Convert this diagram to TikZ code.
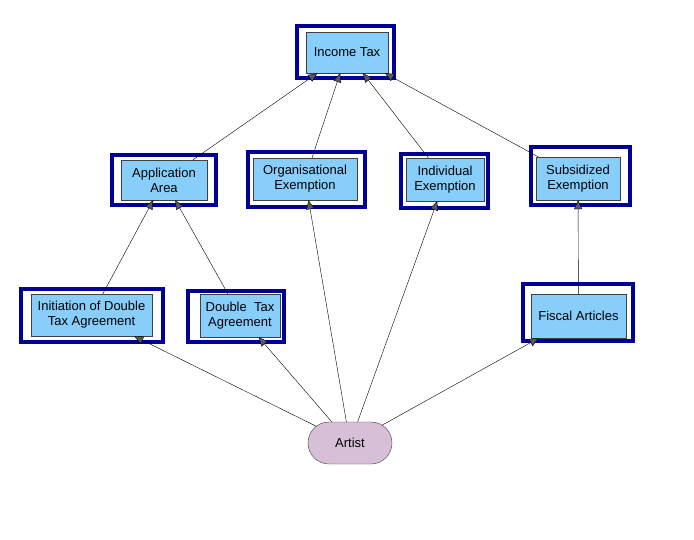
\documentclass[tikz,border=0pt]{standalone}
\usepackage{fontspec}
\setmainfont{Liberation Sans}
\usepackage{tikz}
\usepackage{xcolor}
\usetikzlibrary{arrows.meta, shapes.misc}
\definecolor{frameblue}{RGB}{0,0,150}
\definecolor{boxblue}{RGB}{135,206,250}
\definecolor{artistpink}{RGB}{216,191,216}
\tikzset{
    tax-frame/.style = {draw=frameblue, fill=white, line width=4.3pt, rectangle, inner sep=0pt},
    tax-box/.style = {draw=black!75, fill=boxblue, thin, rectangle, inner sep=0pt, align=center, font=\fontsize{13}{15}\selectfont},
    artist-box/.style = {draw=black!75, fill=artistpink, thin, rounded rectangle, inner sep=0pt, minimum width=84pt, minimum height=42pt, font=\fontsize{13}{15}\selectfont},
    tax-edge/.style = {draw=black, thin, -{Triangle[length=9pt, width=8pt, fill=gray!70!black]}},
}

\begin{document}
\begin{tikzpicture}[x=1pt, y=-1pt]
\useasboundingbox (0,0) rectangle (694,539);
\node [tax-frame, minimum width=97pt, minimum height=52pt] (income-frame) at (345.5,52) {};
\node [tax-frame, minimum width=104pt, minimum height=50pt] (area-frame) at (164,180) {};
\node [tax-frame, minimum width=117pt, minimum height=55pt] (org-frame) at (306.5,179.5) {};
\node [tax-frame, minimum width=87pt, minimum height=54pt] (indiv-frame) at (444.5,181) {};
\node [tax-frame, minimum width=99pt, minimum height=58pt] (subs-frame) at (580.5,176) {};
\node [tax-frame, minimum width=142pt, minimum height=53pt] (init-frame) at (92,315.5) {};
\node [tax-frame, minimum width=96pt, minimum height=51pt] (dta-frame) at (236,316.5) {};
\node [tax-frame, minimum width=110pt, minimum height=57pt] (fiscal-frame) at (578,312.5) {};

\node [tax-box, minimum width=82pt, minimum height=41pt] (income) at (347,52.5) {Income Tax};
\node [tax-box, minimum width=86pt, minimum height=40pt] (area) at (164,180) {Application\\Area};
\node [tax-box, minimum width=104pt, minimum height=42pt] (org) at (305,179) {Organisational\\Exemption};
\node [tax-box, minimum width=78pt, minimum height=43pt] (indiv) at (445,179.5) {Individual\\Exemption};
\node [tax-box, minimum width=84pt, minimum height=43pt] (subs) at (578,178.5) {Subsidized\\Exemption};
\node [tax-box, minimum width=121pt, minimum height=42pt] (init) at (91.5,315) {Initiation of Double\\Tax Agreement};
\node [tax-box, minimum width=80pt, minimum height=43pt] (dta) at (240,315.5) {Double\ \ Tax\\Agreement};
\node [tax-box, minimum width=95pt, minimum height=44pt] (fiscal) at (578.5,316) {Fiscal Articles};
\node [artist-box] (artist) at (350,443) {Artist};

\draw [tax-edge] (area) -- (income);
\draw [tax-edge] (org) -- (income);
\draw [tax-edge] (indiv) -- (income);
\draw [tax-edge] (subs) -- (income);
\draw [tax-edge] (init) -- (area);
\draw [tax-edge] (dta) -- (area);
\draw [tax-edge] (fiscal) -- (subs);
\draw [tax-edge] (artist) -- (init);
\draw [tax-edge] (artist) -- (dta);
\draw [tax-edge] (artist) -- (org);
\draw [tax-edge] (artist) -- (indiv);
\draw [tax-edge] (artist) -- (fiscal);
\end{tikzpicture}
\end{document}
